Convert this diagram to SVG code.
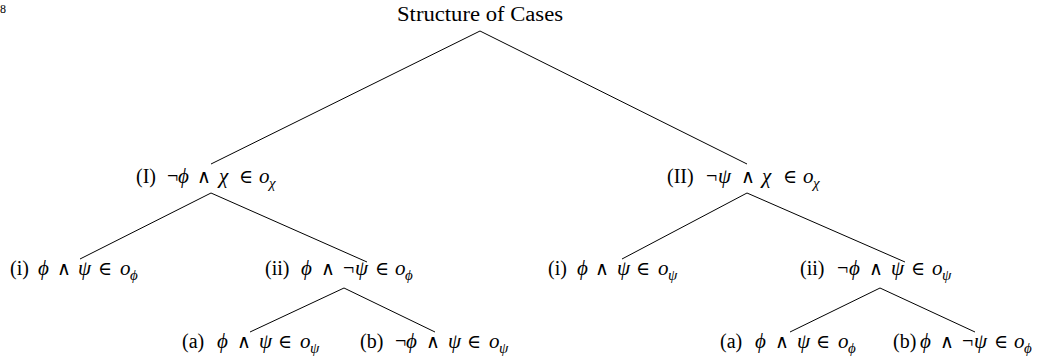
<svg xmlns="http://www.w3.org/2000/svg" width="1056" height="360" viewBox="0 0 1056 360">
<style>
text{font-family:"Liberation Serif","DejaVu Serif",serif;font-size:20px;fill:#000}
.lbl{text-anchor:start}
.m{font-style:italic;font-size:21px}
.op{font-family:"DejaVu Serif",serif;font-size:19px}
.s{font-size:15px;font-style:italic}
.pg{font-size:12px}
line{stroke:#000;stroke-width:1}
</style>
<rect width="1056" height="360" fill="#fff"/>
<text class="pg" x="0" y="13">8</text>
<g id="connectors">
<line x1="480" y1="31" x2="211" y2="164"/>
<line x1="480" y1="31" x2="747" y2="164"/>
<line x1="211" y1="193" x2="80" y2="259"/>
<line x1="211" y1="193" x2="367" y2="262"/>
<line x1="344" y1="288" x2="250" y2="332"/>
<line x1="344" y1="288" x2="435" y2="332"/>
<line x1="747" y1="193" x2="622" y2="259"/>
<line x1="747" y1="193" x2="905" y2="262"/>
<line x1="880" y1="288" x2="790" y2="332"/>
<line x1="880" y1="288" x2="975" y2="332"/>
</g>
<g id="root"><text x="480" y="21" text-anchor="middle" textLength="166" lengthAdjust="spacingAndGlyphs">Structure of Cases</text></g>
<g id="caseI"><text class="lbl" y="183"><tspan x="136">(I)</tspan><tspan x="167">¬</tspan><tspan x="178" class="m">ϕ</tspan><tspan x="197" class="op">∧</tspan><tspan x="219" class="m">χ</tspan><tspan x="239" class="op">∈</tspan><tspan x="259" class="m">o</tspan><tspan x="269" class="s" dy="5">χ</tspan></text></g>
<g id="caseII"><text class="lbl" y="183"><tspan x="667">(II)</tspan><tspan x="706">¬</tspan><tspan x="718" class="m">ψ</tspan><tspan x="741" class="op">∧</tspan><tspan x="762" class="m">χ</tspan><tspan x="783" class="op">∈</tspan><tspan x="803" class="m">o</tspan><tspan x="813" class="s" dy="5">χ</tspan></text></g>
<g id="caseIi"><text class="lbl" y="275"><tspan x="10">(i)</tspan><tspan x="38" class="m">ϕ</tspan><tspan x="57" class="op">∧</tspan><tspan x="78" class="m">ψ</tspan><tspan x="98" class="op">∈</tspan><tspan x="120" class="m">o</tspan><tspan x="130" class="s" dy="5">ϕ</tspan></text></g>
<g id="caseIii"><text class="lbl" y="275"><tspan x="265">(ii)</tspan><tspan x="301" class="m">ϕ</tspan><tspan x="321" class="op">∧</tspan><tspan x="343">¬</tspan><tspan x="355" class="m">ψ</tspan><tspan x="375" class="op">∈</tspan><tspan x="395" class="m">o</tspan><tspan x="405" class="s" dy="5">ϕ</tspan></text></g>
<g id="caseIIi"><text class="lbl" y="275"><tspan x="548">(i)</tspan><tspan x="577" class="m">ϕ</tspan><tspan x="595" class="op">∧</tspan><tspan x="617" class="m">ψ</tspan><tspan x="636" class="op">∈</tspan><tspan x="658" class="m">o</tspan><tspan x="668" class="s" dy="5">ψ</tspan></text></g>
<g id="caseIIii"><text class="lbl" y="275"><tspan x="800">(ii)</tspan><tspan x="837">¬</tspan><tspan x="849" class="m">ϕ</tspan><tspan x="869" class="op">∧</tspan><tspan x="891" class="m">ψ</tspan><tspan x="911" class="op">∈</tspan><tspan x="932" class="m">o</tspan><tspan x="942" class="s" dy="5">ψ</tspan></text></g>
<g id="caseIiia"><text class="lbl" y="348"><tspan x="182">(a)</tspan><tspan x="217" class="m">ϕ</tspan><tspan x="237" class="op">∧</tspan><tspan x="259" class="m">ψ</tspan><tspan x="278" class="op">∈</tspan><tspan x="300" class="m">o</tspan><tspan x="310" class="s" dy="5">ψ</tspan></text></g>
<g id="caseIiib"><text class="lbl" y="348"><tspan x="360">(b)</tspan><tspan x="395">¬</tspan><tspan x="406" class="m">ϕ</tspan><tspan x="426" class="op">∧</tspan><tspan x="448" class="m">ψ</tspan><tspan x="467" class="op">∈</tspan><tspan x="489" class="m">o</tspan><tspan x="499" class="s" dy="5">ψ</tspan></text></g>
<g id="caseIIiia"><text class="lbl" y="348"><tspan x="720">(a)</tspan><tspan x="755" class="m">ϕ</tspan><tspan x="775" class="op">∧</tspan><tspan x="797" class="m">ψ</tspan><tspan x="816" class="op">∈</tspan><tspan x="838" class="m">o</tspan><tspan x="848" class="s" dy="5">ϕ</tspan></text></g>
<g id="caseIIiib"><text class="lbl" y="348"><tspan x="893">(b)</tspan><tspan x="920" class="m">ϕ</tspan><tspan x="940" class="op">∧</tspan><tspan x="962">¬</tspan><tspan x="974" class="m">ψ</tspan><tspan x="994" class="op">∈</tspan><tspan x="1014" class="m">o</tspan><tspan x="1024" class="s" dy="5">ϕ</tspan></text></g>
</svg>
